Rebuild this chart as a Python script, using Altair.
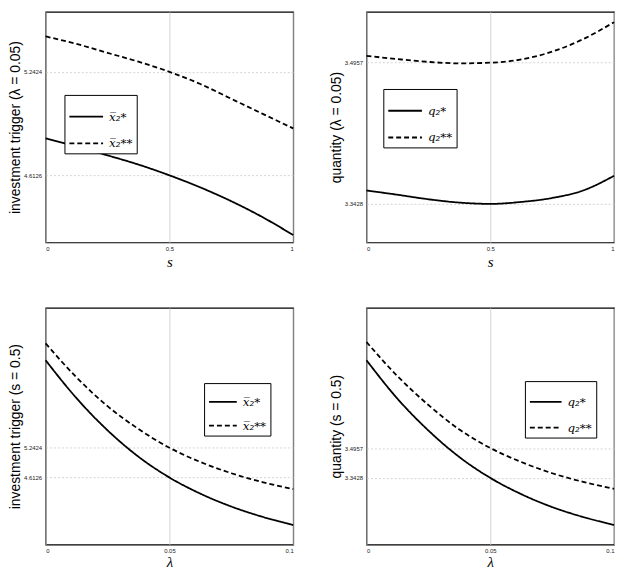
import altair as alt
import pandas as pd

# ---- data ----
s_vals = [0, 0.125, 0.25, 0.375, 0.5, 0.625, 0.75, 0.875, 1]
lam_vals = [0, 0.0125, 0.025, 0.0375, 0.05, 0.0625, 0.075, 0.0875, 0.1]

# top-left: investment trigger vs s (lambda = 0.05)
x_star_s = [4.838, 4.788, 4.734, 4.678, 4.6126, 4.539, 4.455, 4.359, 4.249]
x_2star_s = [5.458, 5.412, 5.358, 5.304, 5.2424, 5.168, 5.078, 4.988, 4.898]

# top-right: quantity vs s (lambda = 0.05)
q_star_s = [3.3573, 3.3527, 3.3478, 3.3442, 3.3428, 3.3449, 3.3492, 3.3573, 3.3732]
q_2star_s = [3.5031, 3.4996, 3.4966, 3.4950, 3.4957, 3.4992, 3.5077, 3.5212, 3.5396]

# bottom-left: investment trigger vs lambda (s = 0.5)
x_star_l = [7.097, 6.292, 5.613, 5.053, 4.6126, 4.270, 3.997, 3.780, 3.605]
x_2star_l = [7.454, 6.733, 6.124, 5.641, 5.2424, 4.941, 4.703, 4.515, 4.368]

# bottom-right: quantity vs lambda (s = 0.5)
q_star_l = [3.9459, 3.7488, 3.5857, 3.4498, 3.3428, 3.2596, 3.1933, 3.1423, 3.1015]
q_2star_l = [4.0394, 3.8644, 3.7166, 3.5908, 3.4957, 3.4243, 3.3666, 3.3224, 3.2867]

x_names = ["x\u0305\u2082*", "x\u0305\u2082**"]
q_names = ["q\u2082*", "q\u2082**"]

s_ticks = [0, 0.5, 1]
lam_ticks = [0, 0.05, 0.1]
x_yticks = [4.6126, 5.2424]
q_yticks = [3.3428, 3.4957]

W = 250


def panel(xv, a, b, names, ydom, yticks, xticks, ytitle, xtitle, lx, ly, h,
          xtitle_y, sym_len):
    n = len(xv)
    df = pd.DataFrame({
        "x": list(xv) * 2,
        "y": list(a) + list(b),
        "series": [names[0]] * n + [names[1]] * n,
    })
    return alt.Chart(df).mark_line(
        color="black", strokeWidth=1.8, interpolate="monotone"
    ).encode(
        x=alt.X("x:Q",
                scale=alt.Scale(domain=[xv[0], xv[-1]], nice=False, zero=False),
                axis=alt.Axis(values=xticks, format="~g", title=xtitle,
                              titleFont="Liberation Serif", titleFontStyle="italic",
                              titleFontSize=15, titleFontWeight="normal", titleColor="black",
                              titleX=W / 2, titleY=xtitle_y, titleBaseline="middle",
                              titleAlign="center",
                              labelFont="Liberation Sans", labelFontSize=6, labelColor="#222",
                              labelPadding=3, ticks=False, domain=False,
                              grid=True, gridColor="#c8c8c8", gridWidth=0.8)),
        y=alt.Y("y:Q",
                scale=alt.Scale(domain=ydom, nice=False, zero=False),
                axis=alt.Axis(values=yticks, format=".4f", title=ytitle,
                              titleFont="Liberation Sans", titleFontSize=14,
                              titleFontWeight="normal", titleColor="black",
                              titleX=-30, titleY=h / 2, titleBaseline="middle",
                              titleAlign="center",
                              labelFont="Liberation Sans", labelFontSize=6, labelColor="#222",
                              labelPadding=4, ticks=False, domain=False,
                              grid=True, gridColor="#c8c8c8", gridWidth=0.8, gridDash=[2, 2])),
        strokeDash=alt.StrokeDash(
            "series:N",
            scale=alt.Scale(domain=names, range=[[1, 0], [5, 3]]),
            legend=alt.Legend(title=None, orient="none", legendX=lx, legendY=ly,
                              symbolType="stroke", symbolSize=sym_len * sym_len,
                              symbolStrokeWidth=1.8, symbolStrokeColor="black",
                              labelFont="DejaVu Serif", labelFontStyle="italic",
                              labelFontSize=12, labelColor="black", labelOffset=5,
                              strokeColor="black", fillColor="white",
                              padding=4, rowPadding=3),
        ),
    ).properties(width=W, height=h)


p1 = panel(s_vals, x_star_s, x_2star_s, x_names, [4.204, 5.608], x_yticks, s_ticks,
           "investment trigger (\u03bb = 0.05)", "s", 19, 84, 233, 19, 34)
p2 = panel(s_vals, q_star_s, q_2star_s, q_names, [3.3010, 3.5509], q_yticks, s_ticks,
           "quantity (\u03bb = 0.05)", "s", 17, 78, 233, 19, 34)
p3 = panel(lam_vals, x_star_l, x_2star_l, x_names, [3.192, 8.209], x_yticks, lam_ticks,
           "investment trigger (s = 0.5)", "\u03bb", 160, 76, 239, 17, 28)
p4 = panel(lam_vals, q_star_l, q_2star_l, q_names, [3.0013, 4.2144], q_yticks, lam_ticks,
           "quantity (s = 0.5)", "\u03bb", 160, 74, 239, 17, 32)

chart = alt.concat(
    p1, p2, p3, p4, columns=2, spacing={"row": 66, "column": 74}, bounds="flush"
).resolve_scale(
    x="independent", y="independent", strokeDash="independent"
).resolve_legend(
    strokeDash="independent"
).properties(
    padding=0, background="white"
).configure_view(
    stroke="black", strokeWidth=1.2
)

chart.save("out.html", embed_options={"renderer": "svg", "actions": False})
